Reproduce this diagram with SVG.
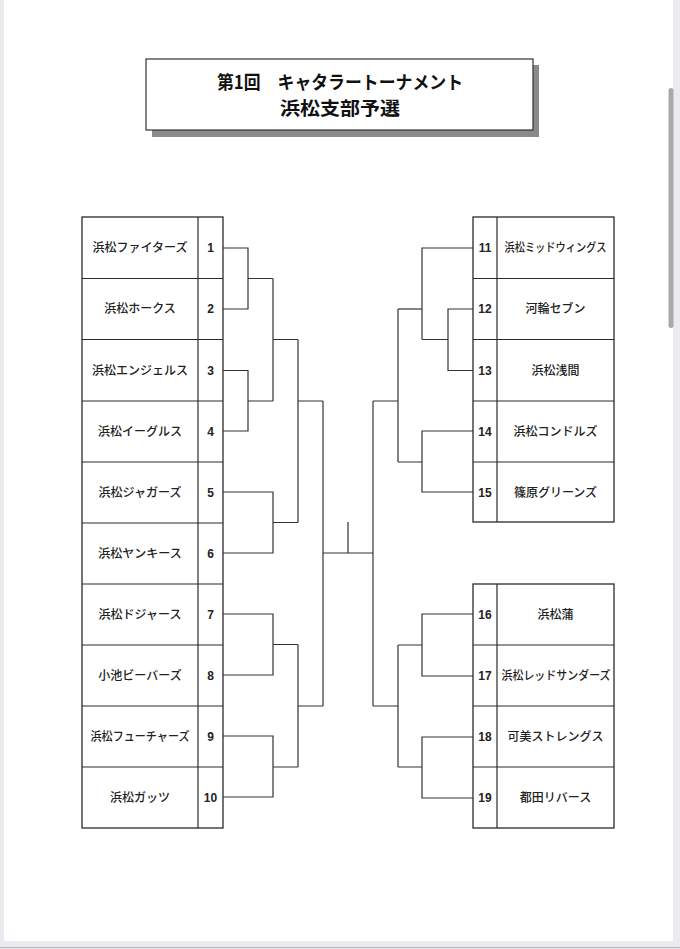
<svg xmlns="http://www.w3.org/2000/svg" width="680" height="949" viewBox="0 0 680 949">
<style>
.frame{fill:none;stroke:#2a2a2a;stroke-width:1.3}
.cell{fill:none;stroke:#2a2a2a;stroke-width:1.2}
.ln{fill:none;stroke:#333;stroke-width:1.2}
.name{font-family:"Noto Sans CJK JP","Noto Sans",sans-serif;font-size:12px;font-weight:500;fill:#222;text-anchor:middle}
.num{font-family:"Liberation Sans",Arial,sans-serif;font-size:12px;font-weight:700;fill:#222;text-anchor:middle}
.title{font-family:"Noto Sans CJK JP",sans-serif;font-size:18px;font-weight:700;fill:#111;text-anchor:middle}
</style>
<rect x="0" y="0" width="680" height="949" fill="#ebebef"/>
<rect x="4" y="0" width="669" height="941" fill="#ffffff"/>
<line x1="0" y1="947.5" x2="680" y2="947.5" stroke="#b8b8bc" stroke-width="1"/>
<rect x="668.5" y="88" width="5" height="240" rx="2.5" fill="#a9a9a9"/>

<g id="title">
<rect x="152" y="65" width="387" height="72" fill="#8a8a8a"/>
<rect x="146" y="59" width="387" height="71" fill="#fff" stroke="#333" stroke-width="1.2"/>
<text class="title" x="340" y="89" textLength="246" lengthAdjust="spacingAndGlyphs">第1回　キャタラートーナメント</text>
<text class="title" x="340" y="114.5" textLength="120" lengthAdjust="spacingAndGlyphs">浜松支部予選</text>
</g>

<g id="left-table">
<rect class="frame" x="82" y="217" width="141" height="611"/>
<line class="cell" x1="198" y1="217" x2="198" y2="828"/>
<path class="cell" d="M82 278.5H223M82 339.5H223M82 401H223M82 462H223M82 523H223M82 584H223M82 645H223M82 706H223M82 767H223"/>
</g>
<g id="team-1"><text class="name" x="140" y="252">浜松ファイターズ</text><text class="num" x="210.5" y="252">1</text></g>
<g id="team-2"><text class="name" x="140" y="313">浜松ホークス</text><text class="num" x="210.5" y="313">2</text></g>
<g id="team-3"><text class="name" x="140" y="374.5">浜松エンジェルス</text><text class="num" x="210.5" y="374.5">3</text></g>
<g id="team-4"><text class="name" x="140" y="435.5">浜松イーグルス</text><text class="num" x="210.5" y="435.5">4</text></g>
<g id="team-5"><text class="name" x="140" y="496.5">浜松ジャガーズ</text><text class="num" x="210.5" y="496.5">5</text></g>
<g id="team-6"><text class="name" x="140" y="557.5">浜松ヤンキース</text><text class="num" x="210.5" y="557.5">6</text></g>
<g id="team-7"><text class="name" x="140" y="618.5">浜松ドジャース</text><text class="num" x="210.5" y="618.5">7</text></g>
<g id="team-8"><text class="name" x="140" y="679.5">小池ビーバーズ</text><text class="num" x="210.5" y="679.5">8</text></g>
<g id="team-9"><text class="name" x="140" y="740.5" textLength="99" lengthAdjust="spacingAndGlyphs">浜松フューチャーズ</text><text class="num" x="210.5" y="740.5">9</text></g>
<g id="team-10"><text class="name" x="140" y="801.5">浜松ガッツ</text><text class="num" x="210.5" y="801.5">10</text></g>

<g id="right-table-1">
<rect class="frame" x="473" y="217" width="141" height="305"/>
<line class="cell" x1="497" y1="217" x2="497" y2="522"/>
<path class="cell" d="M473 278.5H614M473 339.5H614M473 401H614M473 462H614"/>
</g>
<g id="right-table-2">
<rect class="frame" x="473" y="584" width="141" height="244"/>
<line class="cell" x1="497" y1="584" x2="497" y2="828"/>
<path class="cell" d="M473 645H614M473 706H614M473 767H614"/>
</g>
<g id="team-11"><text class="num" x="485" y="252">11</text><text class="name" x="555.5" y="252" textLength="102" lengthAdjust="spacingAndGlyphs">浜松ミッドウィングス</text></g>
<g id="team-12"><text class="num" x="485" y="313">12</text><text class="name" x="555.5" y="313">河輪セブン</text></g>
<g id="team-13"><text class="num" x="485" y="374.5">13</text><text class="name" x="555.5" y="374.5">浜松浅間</text></g>
<g id="team-14"><text class="num" x="485" y="435.5">14</text><text class="name" x="555.5" y="435.5">浜松コンドルズ</text></g>
<g id="team-15"><text class="num" x="485" y="496.5">15</text><text class="name" x="555.5" y="496.5">篠原グリーンズ</text></g>
<g id="team-16"><text class="num" x="485" y="618.5">16</text><text class="name" x="555.5" y="618.5">浜松蒲</text></g>
<g id="team-17"><text class="num" x="485" y="679.5">17</text><text class="name" x="556" y="679.5" textLength="109" lengthAdjust="spacingAndGlyphs">浜松レッドサンダーズ</text></g>
<g id="team-18"><text class="num" x="485" y="740.5">18</text><text class="name" x="555.5" y="740.5">可美ストレングス</text></g>
<g id="team-19"><text class="num" x="485" y="801.5">19</text><text class="name" x="555.5" y="801.5">都田リバース</text></g>

<g id="connectors">
<path class="ln" d="M223 248H248V309H223M248 278.5H273"/>
<path class="ln" d="M223 370.5H248V431H223M248 401H273"/>
<path class="ln" d="M273 278.5V401M273 339.5H298"/>
<path class="ln" d="M223 492H273V553H223M273 522.5H298"/>
<path class="ln" d="M298 339.5V522.5M298 401H323"/>
<path class="ln" d="M223 614H273V675H223M273 644.5H298"/>
<path class="ln" d="M223 736H273V797H223M273 767H298"/>
<path class="ln" d="M298 644.5V767M298 706H323"/>
<path class="ln" d="M323 401V706M323 553H373M348 522V553"/>
<path class="ln" d="M373 401V706"/>
<path class="ln" d="M473 248H422V339.5"/>
<path class="ln" d="M473 309H448V370.5H473M448 339.5H422"/>
<path class="ln" d="M422 309H398"/>
<path class="ln" d="M473 431H422V492H473M422 462H398"/>
<path class="ln" d="M398 309V462M398 401H373"/>
<path class="ln" d="M473 614H422V676H473M422 645H398"/>
<path class="ln" d="M473 737H422V798H473M422 767H398"/>
<path class="ln" d="M398 645V767M398 706H373"/>
</g>
</svg>
